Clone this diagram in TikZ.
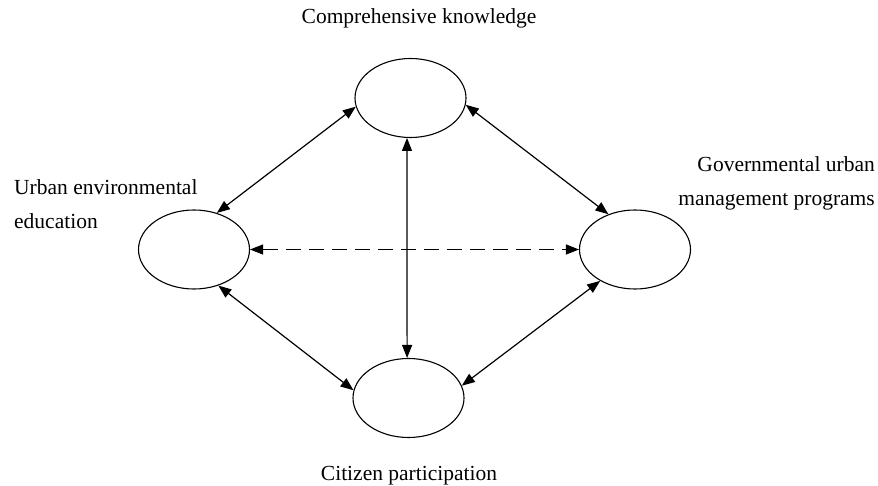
\documentclass[tikz,border=0pt]{standalone}
\usepackage{fontspec}
\setmainfont{Liberation Serif}
\usetikzlibrary{shapes.geometric,arrows.meta}

\begin{document}
\begin{tikzpicture}[x=1pt,y=-1pt]
	\tikzstyle{every node}+=[inner sep=0pt]
	\tikzstyle{bubble}=[draw, ellipse, line width=1.1pt, minimum width=111pt, minimum height=79pt]
	\tikzstyle{lbl}=[font=\fontsize{21.5}{34}\selectfont]
	\tikzstyle{link}=[line width=1.2pt, {Triangle[length=13pt,width=10pt]}-{Triangle[length=13pt,width=10pt]}]
	\useasboundingbox (0,0) rectangle (878,486);
	% the four ellipses
	\node [bubble] (know) at (410.5,98) {};
	\node [bubble] (edu) at (194,249.5) {};
	\node [bubble] (gov) at (635,249.5) {};
	\node [bubble] (cit) at (408.5,398) {};
	% labels
	\node [lbl, anchor=base] (knowlbl) at (419,24) {Comprehensive knowledge};
	\node [lbl, anchor=north west, align=left] (edulbl) at (14,179.3) {Urban environmental\\education};
	\node [lbl, anchor=north east, align=right] (govlbl) at (875,156.3) {Governmental urban\\management programs};
	\node [lbl, anchor=base] (citlbl) at (409,480) {Citizen participation};
	% links
	\draw [link] (edu.58) -- (know.189);
	\draw [link] (know.353) -- (gov.127);
	\draw [link] (edu.304) -- (cit.172);
	\draw [link] (cit.13) -- (gov.222);
	\draw [link] (know.265) -- (cit.92);
	\draw [link, dash pattern=on 15pt off 8pt] (edu.east) -- (gov.west);
\end{tikzpicture}
\end{document}
